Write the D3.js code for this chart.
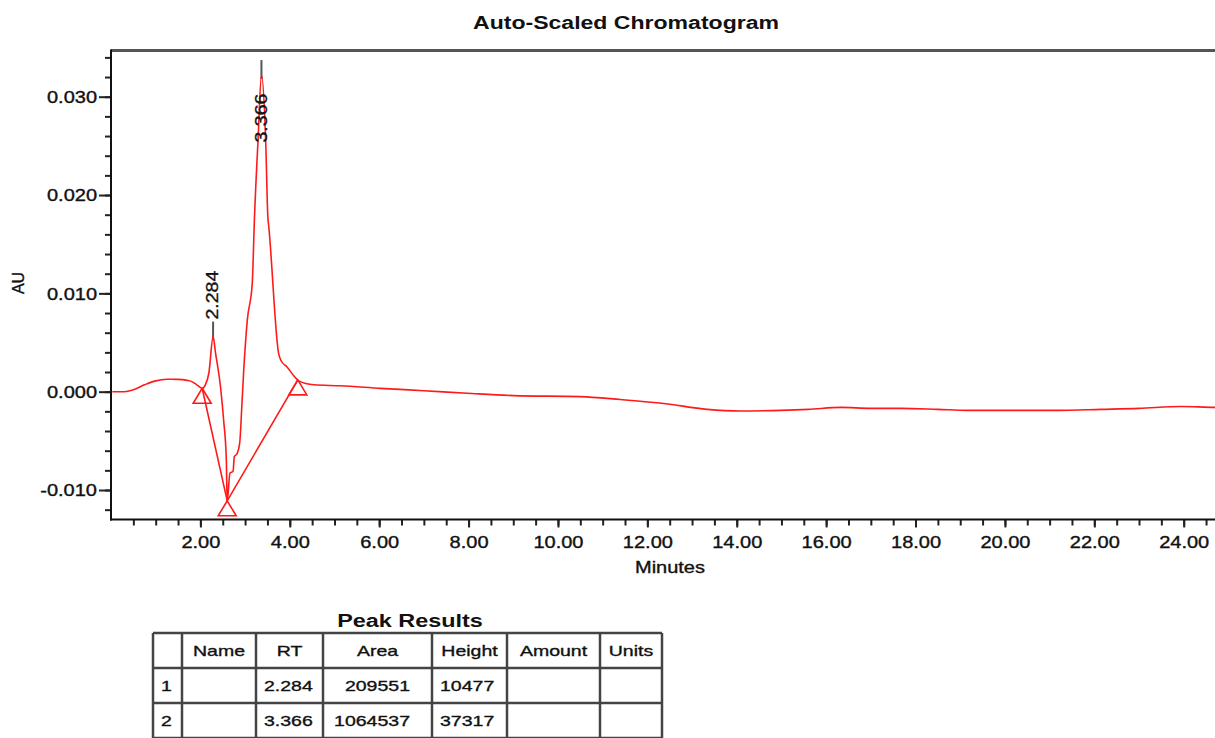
<!DOCTYPE html>
<html>
<head>
<meta charset="utf-8">
<script src="https://cdn.jsdelivr.net/npm/d3@7"></script>
<style>
    body { margin: 0; background: #fff; }
    text { font-family: "Liberation Sans", Arial, sans-serif; fill: #111; stroke: #111; stroke-width: 0.35px; }
    text.bold { stroke-width: 0; }
</style>
</head>
<body>
<svg id="chart" width="1215" height="738"></svg>
<script>
// trace (minutes, AU)
const times = [0.03, 0.30, 0.50, 0.75, 1.00, 1.25, 1.50, 1.70, 1.82, 1.92, 2.04, 2.11, 2.19, 2.284, 2.34, 2.45,
    2.52, 2.58, 2.60, 2.66, 2.73, 2.76, 2.82, 2.88, 2.93, 2.97, 3.05, 3.16, 3.21, 3.29, 3.366, 3.46, 3.51, 3.53,
    3.75, 3.80, 3.94, 4.13, 4.20, 4.54, 5.13, 6.03, 7.00, 7.97, 9.01, 10.50, 11.40, 12.37, 13.34, 14.09, 14.98,
    15.60, 16.33, 17.00, 17.67, 18.50, 19.16, 20.36, 21.20, 22.15, 23.00, 23.94, 24.72, 25.00];
const absorbance = [0, 0, 0.0002, 0.0007, 0.0011, 0.00126, 0.00125, 0.00115, 0.0010, 0.0007, 0.00035, 0.0007,
    0.0019, 0.0056, 0.0039, 0.0005, -0.0029, -0.0069, -0.0112, -0.0083, -0.0081, -0.0066, -0.0063, -0.0052,
    -0.0012, 0.0022, 0.0073, 0.0110, 0.0177, 0.0256, 0.0322, 0.0256, 0.0177, 0.0168, 0.0039, 0.0032, 0.0025,
    0.0014, 0.0011, 0.0007, 0.0006, 0.00034, 0.0001, -0.00016, -0.0004, -0.0005, -0.0008, -0.0012, -0.0018,
    -0.00196, -0.0019, -0.0018, -0.0016, -0.0017, -0.0017, -0.0018, -0.0019, -0.0019, -0.0019, -0.0018, -0.0017,
    -0.0015, -0.0016, -0.0016];

const peakTimes = [2.284, 3.366];
const peakTops = [0.0056, 0.0322];
const baselineTimes = [2.04, 2.60, 4.18];
const baselineValues = [0.00035, -0.0111, 0.0012];

const xMinor = d3.range(1, 51).map(i => i * 0.5);
const xMajor = d3.range(2, 25, 2);
const yMinor = d3.range(-6, 18).map(i => i * 0.002);
const yMajor = [-0.01, 0, 0.01, 0.02, 0.03];

const tableHeaders = ['', 'Name', 'RT', 'Area', 'Height', 'Amount', 'Units'];
const peakNumbers = ['1', '2'];
const peakNames = ['', ''];
const peakRT = ['2.284', '3.366'];
const peakArea = [209551, 1064537];
const peakHeight = [10477, 37317];

const svg = d3.select('#chart');
const plotLeft = 111, plotTop = 50.5, plotBottom = 519.5;

const x = d3.scaleLinear().domain([0, 25]).range([plotLeft, 1228.4]);
const y = d3.scaleLinear().domain([-0.013, 0.0347]).range([plotBottom, plotTop]);

const fmt = d3.formatLocale({ decimal: '.', thousands: ',', grouping: [3], currency: ['', ''], minus: '-' });

// widen glyphs, the source font is a wide one
function stretch(sel, k) {
    sel.each(function () {
        const w = this.getComputedTextLength();
        d3.select(this).attr('textLength', w * k).attr('lengthAdjust', 'spacingAndGlyphs');
    });
}

svg.append('text')
    .attr('class', 'bold')
    .attr('x', 626).attr('y', 29)
    .attr('text-anchor', 'middle')
    .style('font-size', '18px').style('font-weight', 'bold')
    .text('Auto-Scaled Chromatogram')
    .call(stretch, 1.28);

// axes
const xMinorAxis = svg.append('g')
    .attr('transform', `translate(0,${plotBottom})`)
    .call(d3.axisBottom(x).tickValues(xMinor).tickSize(6).tickSizeOuter(0).tickFormat(''));
const xAxis = svg.append('g')
    .attr('transform', `translate(0,${plotBottom})`)
    .call(d3.axisBottom(x).tickValues(xMajor).tickSize(8).tickPadding(9).tickSizeOuter(0).tickFormat(fmt.format('.2f')));
const yMinorAxis = svg.append('g')
    .attr('transform', `translate(${plotLeft},0)`)
    .call(d3.axisLeft(y).tickValues(yMinor).tickSize(6).tickSizeOuter(0).tickFormat(''));
const yAxis = svg.append('g')
    .attr('transform', `translate(${plotLeft},0)`)
    .call(d3.axisLeft(y).tickValues(yMajor).tickSize(12).tickPadding(2).tickSizeOuter(0).tickFormat(fmt.format('.3f')));

[xMinorAxis, xAxis, yMinorAxis, yAxis].forEach(g => {
    g.select('.domain').remove();
    g.selectAll('line').attr('stroke', '#222').attr('stroke-width', 2);
});
xAxis.selectAll('text').style('font-size', '16px').attr('fill', '#111').call(stretch, 1.25);
yAxis.selectAll('text').style('font-size', '16px').attr('fill', '#111').attr('dy', '0.36em').call(stretch, 1.25);

// frame
svg.append('line')
    .attr('x1', plotLeft).attr('x2', 1215).attr('y1', plotTop).attr('y2', plotTop)
    .attr('stroke', '#555').attr('stroke-width', 3);
svg.append('line')
    .attr('x1', plotLeft).attr('x2', plotLeft).attr('y1', plotTop - 1).attr('y2', plotBottom + 1)
    .attr('stroke', '#111').attr('stroke-width', 2);
svg.append('line')
    .attr('x1', plotLeft - 1).attr('x2', 1215).attr('y1', plotBottom).attr('y2', plotBottom)
    .attr('stroke', '#111').attr('stroke-width', 2);

svg.append('text')
    .attr('transform', `translate(18,283) rotate(-90)`)
    .attr('text-anchor', 'middle').attr('dy', '0.35em')
    .style('font-size', '16px')
    .text('AU');

svg.append('text')
    .attr('x', 670).attr('y', 573)
    .attr('text-anchor', 'middle')
    .style('font-size', '16px')
    .text('Minutes')
    .call(stretch, 1.25);

// peak markers under the trace
const peaks = peakTimes.map((t, i) => ({ t: t, top: peakTops[i] }));
svg.selectAll('.marker')
    .data(peaks)
    .enter()
    .append('line')
    .attr('class', 'marker')
    .attr('x1', d => x(d.t)).attr('x2', d => x(d.t))
    .attr('y1', d => y(d.top) - 15).attr('y2', d => y(d.top) + 4)
    .attr('stroke', '#555').attr('stroke-width', 2);

const trace = times.map((t, i) => [t, absorbance[i]]);
const line = d3.line().x(d => x(d[0])).y(d => y(d[1])).curve(d3.curveMonotoneX);

svg.append('path')
    .datum(trace)
    .attr('d', line)
    .attr('fill', 'none')
    .attr('stroke', '#ff1a1a')
    .attr('stroke-width', 1.6);

const base = baselineTimes.map((t, i) => [t, baselineValues[i]]);
svg.append('path')
    .datum(base)
    .attr('d', d3.line().x(d => x(d[0])).y(d => y(d[1])))
    .attr('fill', 'none')
    .attr('stroke', '#ff1a1a')
    .attr('stroke-width', 1.6);

svg.selectAll('.tri')
    .data(base)
    .enter()
    .append('path')
    .attr('class', 'tri')
    .attr('transform', d => `translate(${x(d[0])},${y(d[1])})`)
    .attr('d', 'M0,0 L9,15 L-9,15 Z')
    .attr('fill', 'none')
    .attr('stroke', '#ff1a1a')
    .attr('stroke-width', 1.6);

svg.selectAll('.plabel')
    .data(peaks)
    .enter()
    .append('text')
    .attr('class', 'plabel')
    .attr('transform', d => `translate(${x(d.t) - 1},${Math.max(y(d.top) - 17, plotTop + 92)}) rotate(-90)`)
    .attr('dy', '0.36em')
    .style('font-size', '17px')
    .text(d => d.t.toFixed(3))
    .call(stretch, 1.15);

// peak results table
svg.append('text')
    .attr('class', 'bold')
    .attr('x', 410).attr('y', 627)
    .attr('text-anchor', 'middle')
    .style('font-size', '18px').style('font-weight', 'bold')
    .text('Peak Results')
    .call(stretch, 1.3);

const colEdges = [153, 182, 256, 323, 432, 507, 600, 662];
const rowEdges = [633, 668, 703, 738];

const table = svg.append('g');
table.selectAll('.vline')
    .data(colEdges)
    .enter()
    .append('line')
    .attr('x1', d => d).attr('x2', d => d)
    .attr('y1', rowEdges[0]).attr('y2', rowEdges[rowEdges.length - 1])
    .attr('stroke', '#444').attr('stroke-width', 2.5);
table.selectAll('.hline')
    .data(rowEdges)
    .enter()
    .append('line')
    .attr('x1', colEdges[0]).attr('x2', colEdges[colEdges.length - 1])
    .attr('y1', d => d).attr('y2', d => d)
    .attr('stroke', '#444').attr('stroke-width', 2.5);

table.selectAll('.head')
    .data(tableHeaders)
    .enter()
    .append('text')
    .attr('x', (d, i) => (colEdges[i] + colEdges[i + 1]) / 2)
    .attr('y', (rowEdges[0] + rowEdges[1]) / 2)
    .attr('dy', '0.36em')
    .attr('text-anchor', 'middle')
    .style('font-size', '15px')
    .text(d => d)
    .call(stretch, 1.3);

const rows = peakNumbers.map((n, i) => [
    { col: 0, v: n, anchor: 'start' },
    { col: 1, v: peakNames[i], anchor: 'start' },
    { col: 2, v: peakRT[i], anchor: 'start' },
    { col: 3, v: String(peakArea[i]), anchor: 'end' },
    { col: 4, v: String(peakHeight[i]), anchor: 'start' }
]);

rows.forEach((cells, r) => {
    table.selectAll(`.row${r}`)
        .data(cells)
        .enter()
        .append('text')
        .attr('x', d => d.anchor === 'end' ? colEdges[d.col + 1] - 22 : colEdges[d.col] + 8)
        .attr('y', (rowEdges[r + 1] + rowEdges[r + 2]) / 2)
        .attr('dy', '0.36em')
        .attr('text-anchor', d => d.anchor)
        .style('font-size', '15px')
        .text(d => d.v)
        .call(stretch, 1.3);
});
</script>
</body>
</html>
